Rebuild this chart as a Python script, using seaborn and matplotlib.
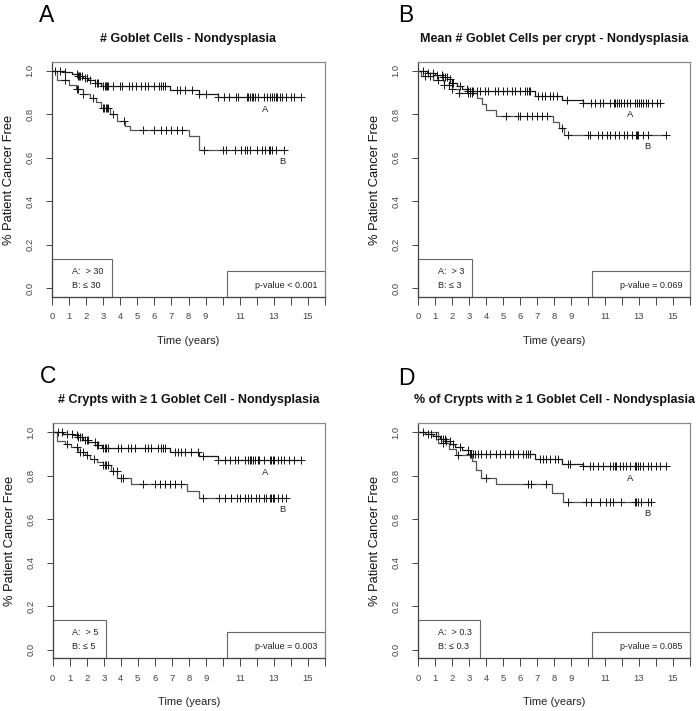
import numpy as np
import matplotlib
matplotlib.use("Agg")
import matplotlib.pyplot as plt
import seaborn as sns
from matplotlib.patches import Rectangle

sns.set_theme(style="white")
plt.rcParams['font.family'] = ['Liberation Sans', 'DejaVu Sans']

# ---- data (time in years, survival fraction) ----
# panel A: # Goblet Cells
p1_a_time = [0, 0.7, 1.2, 1.5, 1.8, 2.1, 2.5, 2.9, 6.9, 8.6, 9.7]
p1_a_surv = [1.0, 0.993, 0.985, 0.975, 0.965, 0.955, 0.945, 0.93, 0.913, 0.893, 0.878]
p1_a_cens = [0.18, 0.47, 0.76, 1.45, 1.52, 1.6, 1.67, 1.74, 1.93, 2.05, 2.23, 2.52, 2.62, 2.72,
             3.0, 3.08, 3.15, 3.22, 3.3, 3.6, 4.0, 4.1, 4.5, 4.7, 4.9, 5.2, 5.45, 5.65, 6.0,
             6.3, 6.4, 6.5, 6.6, 7.3, 7.5, 7.8, 8.2, 8.6, 9.0, 9.75, 10.1, 10.4, 10.8, 10.9,
             11.4, 11.5, 11.6, 11.7, 11.8, 11.9, 12.1, 12.4, 12.6, 12.8, 12.9, 13.0, 13.1,
             13.2, 13.35, 13.5, 13.7, 14.0, 14.2, 14.6]
p1_b_time = [0, 0.3, 1.0, 1.4, 1.8, 2.2, 2.6, 2.9, 3.4, 3.8, 4.3, 4.6, 8.0, 8.6]
p1_b_surv = [1.0, 0.955, 0.935, 0.915, 0.895, 0.875, 0.855, 0.83, 0.80, 0.77, 0.745, 0.727, 0.70, 0.637]
p1_b_cens = [0.76, 1.45, 1.55, 1.84, 2.4, 3.0, 3.07, 3.14, 3.2, 3.3, 3.6, 4.2, 5.35, 6.0, 6.4,
             6.7, 7.0, 7.3, 7.6, 8.9, 10.0, 10.2, 10.7, 11.1, 11.3, 11.4, 11.6, 12.0, 12.3,
             12.5, 12.7, 12.8, 12.9, 13.1, 13.6]

# panel B: Mean # Goblet Cells per crypt
p2_a_time = [0, 0.5, 1.0, 1.4, 1.7, 2.0, 2.3, 2.6, 2.9, 6.9, 8.45, 9.7]
p2_a_surv = [1.0, 0.99, 0.98, 0.97, 0.96, 0.945, 0.93, 0.915, 0.905, 0.882, 0.866, 0.852]
p2_a_cens = [0.31, 0.61, 0.9, 1.1, 1.39, 1.49, 1.59, 1.69, 1.88, 2.0, 2.08, 2.47, 2.86, 2.96,
             3.06, 3.16, 3.25, 3.45, 3.65, 3.94, 4.14, 4.53, 4.73, 5.02, 5.22, 5.51, 5.71,
             6.0, 6.3, 6.4, 6.5, 6.59, 7.08, 7.27, 7.47, 7.76, 7.96, 8.16, 8.75, 9.73, 10.2,
             10.4, 10.7, 10.9, 11.3, 11.5, 11.6, 11.7, 11.8, 11.95, 12.1, 12.3, 12.47, 12.76,
             12.9, 13.0, 13.1, 13.25, 13.4, 13.55, 13.75, 14.04, 14.24]
p2_b_time = [0, 0.2, 0.9, 1.5, 2.0, 2.4, 3.45, 3.75, 4.0, 4.6, 7.95, 8.3, 8.6]
p2_b_surv = [1.0, 0.975, 0.955, 0.935, 0.915, 0.898, 0.873, 0.847, 0.82, 0.792, 0.763, 0.735, 0.706]
p2_b_cens = [0.4, 0.7, 1.2, 1.5, 1.8, 2.0, 2.4, 2.96, 3.06, 3.16, 5.2, 5.9, 6.0, 6.4, 6.7,
             7.0, 7.3, 7.6, 8.45, 8.85, 10.0, 10.1, 10.6, 10.8, 11.1, 11.3, 11.6, 11.8, 12.1,
             12.3, 12.6, 12.8, 12.88, 12.96, 13.25, 13.55, 14.6]

# panel C: # Crypts with >= 1 Goblet Cell
p3_a_time = [0, 0.6, 1.2, 1.5, 1.8, 2.1, 2.5, 2.9, 6.9, 8.6, 9.7]
p3_a_surv = [1.0, 0.993, 0.985, 0.975, 0.965, 0.955, 0.94, 0.926, 0.906, 0.888, 0.87]
p3_a_cens = [0.33, 0.53, 0.82, 1.11, 1.4, 1.5, 1.6, 1.7, 1.89, 1.99, 2.09, 2.48, 2.58, 2.68,
             2.97, 3.07, 3.16, 3.26, 3.85, 4.04, 4.43, 4.63, 4.82, 5.41, 5.6, 5.8, 6.19,
             6.39, 6.49, 6.58, 7.17, 7.36, 7.56, 7.75, 8.14, 8.54, 8.83, 9.71, 10.1, 10.39,
             10.69, 10.88, 11.27, 11.47, 11.57, 11.66, 11.76, 11.86, 12.05, 12.15, 12.44,
             12.74, 12.83, 12.93, 13.03, 13.23, 13.42, 13.62, 13.91, 14.2, 14.59]
p3_b_time = [0, 0.27, 0.7, 1.1, 1.5, 1.9, 2.2, 2.6, 2.95, 3.4, 3.8, 4.6, 7.9, 8.6]
p3_b_surv = [1.0, 0.958, 0.945, 0.93, 0.91, 0.893, 0.876, 0.862, 0.849, 0.82, 0.79, 0.761, 0.73, 0.697]
p3_b_cens = [0.82, 1.4, 1.6, 1.79, 2.0, 2.4, 2.97, 3.07, 3.16, 3.26, 3.55, 3.75, 4.04, 4.14,
             5.3, 6.0, 6.3, 6.58, 6.88, 7.17, 7.56, 8.83, 9.8, 10.1, 10.5, 10.8, 11.0, 11.27,
             11.47, 11.66, 11.95, 12.15, 12.44, 12.54, 12.74, 12.84, 12.94, 13.03, 13.23,
             13.5, 13.7]

# panel D: % of Crypts with >= 1 Goblet Cell
p4_a_time = [0, 0.4, 0.9, 1.3, 1.6, 1.9, 2.2, 2.6, 2.95, 6.9, 8.45, 9.7]
p4_a_surv = [1.0, 0.99, 0.98, 0.97, 0.958, 0.945, 0.932, 0.916, 0.9, 0.876, 0.853, 0.842]
p4_a_cens = [0.3, 0.59, 0.79, 1.08, 1.37, 1.47, 1.57, 1.67, 1.86, 2.06, 2.45, 2.94, 3.04,
             3.14, 3.24, 3.34, 3.53, 3.73, 4.02, 4.22, 4.61, 4.81, 5.1, 5.39, 5.59, 5.88,
             6.18, 6.37, 6.47, 6.57, 7.16, 7.35, 7.55, 7.75, 8.04, 8.24, 8.82, 8.92, 9.71,
             10.1, 10.3, 10.59, 10.88, 11.28, 11.47, 11.57, 11.67, 11.86, 12.06, 12.25,
             12.45, 12.75, 12.84, 12.94, 13.04, 13.24, 13.53, 13.73, 14.02, 14.22, 14.61]
p4_b_time = [0, 1.2, 1.8, 2.25, 3.2, 3.4, 3.7, 4.6, 7.9, 8.5]
p4_b_surv = [1.0, 0.948, 0.92, 0.895, 0.867, 0.827, 0.79, 0.76, 0.72, 0.68]
p4_b_cens = [1.47, 2.35, 4.02, 6.47, 6.67, 7.55, 8.82, 9.9, 10.2, 10.69, 11.08, 11.28,
             11.47, 11.96, 12.75, 12.84, 12.94, 13.14, 13.53, 13.73]

letters = ["A", "B", "C", "D"]
titles = ["# Goblet Cells - Nondysplasia",
          "Mean # Goblet Cells per crypt - Nondysplasia",
          "# Crypts with \u2265 1 Goblet Cell - Nondysplasia",
          "% of Crypts with \u2265 1 Goblet Cell - Nondysplasia"]
group_a_labels = ["A:  > 30", "A:  > 3", "A:  > 5", "A:  > 0.3"]
group_b_labels = ["B: \u2264 30", "B: \u2264 3", "B: \u2264 5", "B: \u2264 0.3"]
pvalues = ["p-value < 0.001", "p-value = 0.069", "p-value = 0.003", "p-value = 0.085"]
xtick_labels = ["0", "1", "2", "3", "4", "5", "6", "7", "8", "9", "", "11", "", "13", "", "15", ""]

panels = [
    (p1_a_time, p1_a_surv, p1_a_cens, p1_b_time, p1_b_surv, p1_b_cens),
    (p2_a_time, p2_a_surv, p2_a_cens, p2_b_time, p2_b_surv, p2_b_cens),
    (p3_a_time, p3_a_surv, p3_a_cens, p3_b_time, p3_b_surv, p3_b_cens),
    (p4_a_time, p4_a_surv, p4_a_cens, p4_b_time, p4_b_surv, p4_b_cens),
]

# layout (figure pixels -> fractions)
W, H = 699, 711
ax_pos = [
    [52 / W, (H - 297) / H, 273 / W, 235 / H],
    [418 / W, (H - 297) / H, 272 / W, 235 / H],
    [52.7 / W, (H - 658.3) / H, 272.3 / W, 235 / H],
    [418 / W, (H - 658.3) / H, 272 / W, 235 / H],
]
letter_pos = [(39, 21.7), (398, 21.7), (40, 382.7), (398, 385)]
legend_w = [3.5 / 16, 3.16 / 16, 3.13 / 16, 3.65 / 16]


def surv_at(times, surv, t):
    idx = np.searchsorted(times, t, side="right") - 1
    return np.asarray(surv)[idx]


def km_curve(ax, times, surv, cens, line_color):
    times = np.asarray(times, float)
    surv = np.asarray(surv, float)
    cens = np.asarray(cens, float)
    xs, ys = times, surv
    if cens.max() > times.max():
        xs = np.append(times, cens.max())
        ys = np.append(surv, surv[-1])
    sns.lineplot(x=xs, y=ys, drawstyle="steps-post", estimator=None, sort=False,
                 color=line_color, linewidth=0.9, ax=ax)
    sns.scatterplot(x=cens, y=surv_at(times, surv, cens), marker="+", s=40,
                    color="#111111", linewidth=0.7, ax=ax, zorder=3)
    return surv[-1]


fig = plt.figure(figsize=(W / 100, H / 100), dpi=100)

for i, (at, asv, ac, bt, bsv, bc) in enumerate(panels):
    ax = fig.add_axes(ax_pos[i])
    end_a = km_curve(ax, at, asv, ac, "#1a1a1a")
    end_b = km_curve(ax, bt, bsv, bc, "#555555")

    ax.set_xlim(0, 16)
    ax.set_ylim(-0.04, 1.04)
    ax.set_xticks(np.arange(0, 17))
    ax.set_xticklabels(xtick_labels)
    ax.set_yticks([0.0, 0.2, 0.4, 0.6, 0.8, 1.0])
    ax.set_yticklabels(["0.0", "0.2", "0.4", "0.6", "0.8", "1.0"], rotation=90, va="center")
    ax.tick_params(axis="y", direction="out", length=4.5, width=0.7, pad=8,
                   labelsize=6.8, colors="#444444", left=True)
    ax.tick_params(axis="x", direction="out", length=5.5, width=0.7, pad=5.5,
                   labelsize=6.8, colors="#444444", bottom=True)
    for side in ["top", "right"]:
        ax.spines[side].set_color("#8a8a8a")
        ax.spines[side].set_linewidth(0.9)
    for side in ["left", "bottom"]:
        ax.spines[side].set_color("#444444")
        ax.spines[side].set_linewidth(0.9)

    ax.set_xlabel("Time (years)", fontsize=8, color="#222222")
    ax.xaxis.set_label_coords(0.5, -0.165)
    ax.xaxis.label.set_va("top")
    ax.set_ylabel("% Patient Cancer Free", fontsize=9.3, color="#111111")
    ax.yaxis.set_label_coords(-0.135, 0.5)

    # curve end labels
    ax.text(12.5, end_a - 0.055, "A", fontsize=6.8, ha="center", va="center", color="#222222")
    ax.text(13.5, end_b - 0.055, "B", fontsize=6.8, ha="center", va="center", color="#222222")

    # group legend box (bottom left)
    ax.add_patch(Rectangle((0, 0), legend_w[i], 0.163, transform=ax.transAxes,
                           fill=False, edgecolor="#666666", linewidth=0.8, clip_on=False))
    ax.text(0.072, 0.108, group_a_labels[i], transform=ax.transAxes, fontsize=6.5,
            ha="left", va="center", color="#222222")
    ax.text(0.072, 0.051, group_b_labels[i], transform=ax.transAxes, fontsize=6.5,
            ha="left", va="center", color="#222222")

    # p-value box (bottom right)
    ax.add_patch(Rectangle((0.64, 0), 0.36, 0.11, transform=ax.transAxes,
                           fill=False, edgecolor="#666666", linewidth=0.8, clip_on=False))
    ax.text(0.972, 0.05, pvalues[i], transform=ax.transAxes, fontsize=6.5,
            ha="right", va="center", color="#222222")

    ax.text(0.5, 1.087, titles[i], transform=ax.transAxes, fontsize=9, fontweight="bold",
            ha="center", va="baseline", color="#111111")

    lx, ly = letter_pos[i]
    fig.text(lx / W, 1 - ly / H, letters[i], fontsize=16.5, ha="left", va="baseline",
             color="black")

fig.savefig("out.png", dpi=100, facecolor="white")
